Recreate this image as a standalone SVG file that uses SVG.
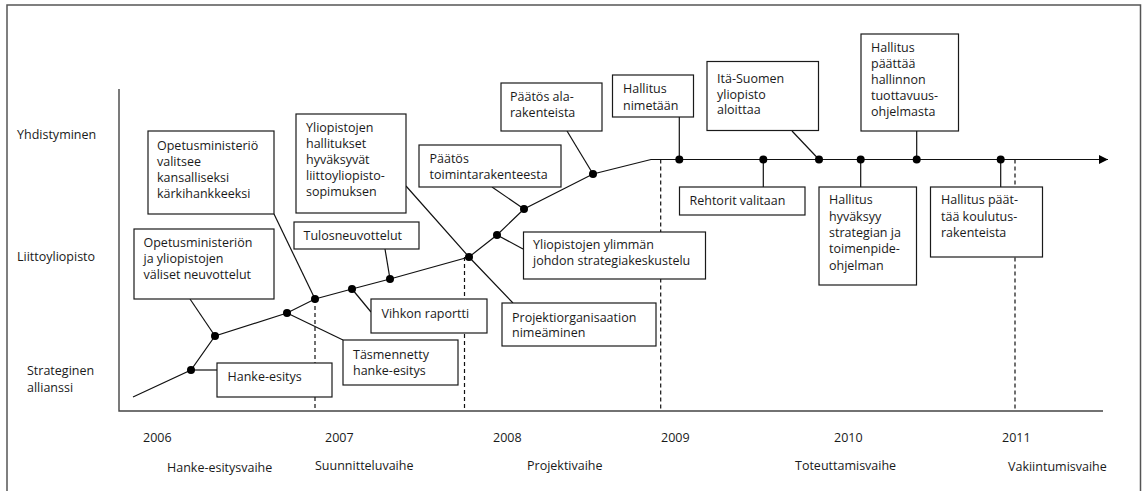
<svg xmlns="http://www.w3.org/2000/svg" width="1145" height="491" viewBox="0 0 1145 491">
<style>
  text { font-family: "Open Sans", "Noto Sans", "Liberation Sans", sans-serif; font-size: 12.5px; fill: #1a1a1a; }
  .box { fill: #ffffff; stroke: #1a1a1a; stroke-width: 1.2; }
  .ln { fill: none; stroke: #111111; stroke-width: 1.2; }
  .dash { fill: none; stroke: #111111; stroke-width: 1.2; stroke-dasharray: 4 3; }
  .axis { fill: none; stroke: #444444; stroke-width: 1.4; }
  .frame { fill: none; stroke: #555555; stroke-width: 1.5; }
  .dot { fill: #000000; }
</style>
<defs>
  <marker id="arrow" viewBox="0 0 10 10" refX="10" refY="5" markerWidth="9" markerHeight="9" markerUnits="userSpaceOnUse" orient="auto">
    <path d="M0,0 L10,5 L0,10 Z" fill="#000000"/>
  </marker>
</defs>
<rect width="1145" height="491" fill="#ffffff"/>
<path class="frame" d="M7,491 V5 H1140.5 V491"/>
<g id="axes">
  <path class="axis" d="M119,89 V411 H1103"/>
</g>
<g id="labels">
  <text x="17" y="139">Yhdistyminen</text>
  <text x="17" y="261">Liittoyliopisto</text>
  <text x="27" y="375">Strateginen</text>
  <text x="27" y="392">allianssi</text>
  <text x="143" y="442">2006</text>
  <text x="325" y="442">2007</text>
  <text x="493" y="442">2008</text>
  <text x="661" y="442">2009</text>
  <text x="834" y="442">2010</text>
  <text x="1002" y="442">2011</text>
  <text x="167" y="472">Hanke-esitysvaihe</text>
  <text x="315" y="470">Suunnitteluvaihe</text>
  <text x="527" y="470">Projektivaihe</text>
  <text x="795" y="469.5">Toteuttamisvaihe</text>
  <text x="1008" y="471">Vakiintumisvaihe</text>
</g>
<g id="connectors">
  <path class="dash" d="M315,299 V411"/>
  <path class="dash" d="M464.5,257 V411"/>
  <path class="dash" d="M660.7,159.5 V411"/>
  <path class="dash" d="M1015,159.5 V411"/>
  <path class="ln" d="M133,397 L191,370 L215,336 L287,313 L315,299 L352,289 L390,279 L469,257 L497,235 L524,209 L593,174 L651,159.5 H1108" marker-end="url(#arrow)"/>
  <path class="ln" d="M191,370 H217"/>
  <path class="ln" d="M190,299 L215,336"/>
  <path class="ln" d="M274,214 L315,299"/>
  <path class="ln" d="M287,313 L343,340"/>
  <path class="ln" d="M352,289 L371,312"/>
  <path class="ln" d="M385,249 L390,279"/>
  <path class="ln" d="M406,186 L469,257 L513,303"/>
  <path class="ln" d="M497,235 L523,249"/>
  <path class="ln" d="M492,187 L524,209"/>
  <path class="ln" d="M567,131 L593,174"/>
  <path class="ln" d="M679.3,117 V159.5"/>
  <path class="ln" d="M763.3,159.5 V187"/>
  <path class="ln" d="M792,131 L819,159.5"/>
  <path class="ln" d="M860.7,159.5 V187"/>
  <path class="ln" d="M916.7,131 V159.5"/>
  <path class="ln" d="M1000.7,159.5 V187"/>
  <circle class="dot" cx="191" cy="370" r="4"/>
  <circle class="dot" cx="215" cy="336" r="4"/>
  <circle class="dot" cx="287" cy="313" r="4"/>
  <circle class="dot" cx="315" cy="299" r="4"/>
  <circle class="dot" cx="352" cy="289" r="4"/>
  <circle class="dot" cx="390" cy="279" r="4"/>
  <circle class="dot" cx="469" cy="257" r="4"/>
  <circle class="dot" cx="497" cy="235" r="4"/>
  <circle class="dot" cx="524" cy="209" r="4"/>
  <circle class="dot" cx="593" cy="174" r="4"/>
  <circle class="dot" cx="679.3" cy="159.5" r="4"/>
  <circle class="dot" cx="763.3" cy="159.5" r="4"/>
  <circle class="dot" cx="819" cy="159.5" r="4"/>
  <circle class="dot" cx="860.7" cy="159.5" r="4"/>
  <circle class="dot" cx="916.7" cy="159.5" r="4"/>
  <circle class="dot" cx="1000.7" cy="159.5" r="4"/>
</g>
<g id="n-hanke-esitys">
  <rect class="box" x="217" y="363" width="115" height="34"/>
  <text x="227.5" y="381">Hanke-esitys</text>
</g>
<g id="n-tasmennetty">
  <rect class="box" x="343" y="340" width="115" height="45"/>
  <text x="353" y="358.5">Täsmennetty</text>
  <text x="353" y="375">hanke-esitys</text>
</g>
<g id="n-vihkon">
  <rect class="box" x="371" y="299" width="116" height="34"/>
  <text x="381.5" y="318">Vihkon raportti</text>
</g>
<g id="n-projektiorganisaatio">
  <rect class="box" x="502" y="303" width="154" height="43"/>
  <text x="512" y="321.5">Projektiorganisaation</text>
  <text x="512" y="337">nimeäminen</text>
</g>
<g id="n-tulosneuvottelut">
  <rect class="box" x="294" y="222" width="125" height="27"/>
  <text x="303.5" y="240">Tulosneuvottelut</text>
</g>
<g id="n-opm-neuvottelut">
  <rect class="box" x="134" y="229" width="140" height="70"/>
  <text x="143.5" y="246.5">Opetusministeriön</text>
  <text x="143.5" y="262.5">ja yliopistojen</text>
  <text x="143.5" y="279">väliset neuvottelut</text>
</g>
<g id="n-opm-valitsee">
  <rect class="box" x="148" y="131" width="126" height="83"/>
  <text x="157" y="150">Opetusministeriö</text>
  <text x="157" y="166">valitsee</text>
  <text x="157" y="182">kansalliseksi</text>
  <text x="157" y="198">kärkihankkeeksi</text>
</g>
<g id="n-hallitukset-hyvaksyvat">
  <rect class="box" x="296" y="114" width="110" height="99"/>
  <text x="306" y="132">Yliopistojen</text>
  <text x="306" y="148">hallitukset</text>
  <text x="306" y="164">hyväksyvät</text>
  <text x="306" y="180">liittoyliopisto-</text>
  <text x="306" y="196">sopimuksen</text>
</g>
<g id="n-ylimman-johdon">
  <rect class="box" x="523.5" y="232" width="182" height="47"/>
  <text x="533" y="248.5">Yliopistojen ylimmän</text>
  <text x="533" y="265">johdon strategiakeskustelu</text>
</g>
<g id="n-toimintarakenne">
  <rect class="box" x="419" y="145" width="142" height="42"/>
  <text x="429.5" y="163">Päätös</text>
  <text x="429.5" y="179">toimintarakenteesta</text>
</g>
<g id="n-alarakenteet">
  <rect class="box" x="501" y="83" width="101" height="48"/>
  <text x="510" y="101">Päätös ala-</text>
  <text x="510" y="117">rakenteista</text>
</g>
<g id="n-hallitus-nimetaan">
  <rect class="box" x="612.5" y="75" width="81" height="42"/>
  <text x="623" y="93">Hallitus</text>
  <text x="623" y="109.5">nimetään</text>
</g>
<g id="n-ita-suomen">
  <rect class="box" x="707" y="61.5" width="111.5" height="69"/>
  <text x="717" y="82.5">Itä-Suomen</text>
  <text x="717" y="98.5">yliopisto</text>
  <text x="717" y="114">aloittaa</text>
</g>
<g id="n-hallinnon-tuottavuus">
  <rect class="box" x="861" y="34" width="97.5" height="97"/>
  <text x="871" y="51.5">Hallitus</text>
  <text x="871" y="67.5">päättää</text>
  <text x="871" y="83.5">hallinnon</text>
  <text x="871" y="99.5">tuottavuus-</text>
  <text x="871" y="115.5">ohjelmasta</text>
</g>
<g id="n-rehtorit">
  <rect class="box" x="679.5" y="187" width="125.5" height="28"/>
  <text x="689.5" y="205">Rehtorit valitaan</text>
</g>
<g id="n-strategia">
  <rect class="box" x="819" y="187" width="97.5" height="98"/>
  <text x="829" y="204">Hallitus</text>
  <text x="829" y="220.5">hyväksyy</text>
  <text x="829" y="237">strategian ja</text>
  <text x="829" y="253">toimenpide-</text>
  <text x="829" y="269.5">ohjelman</text>
</g>
<g id="n-koulutusrakenteet">
  <rect class="box" x="930.5" y="187" width="112" height="70"/>
  <text x="941" y="204">Hallitus päät-</text>
  <text x="941" y="220.5">tää koulutus-</text>
  <text x="941" y="237">rakenteista</text>
</g>
</svg>
